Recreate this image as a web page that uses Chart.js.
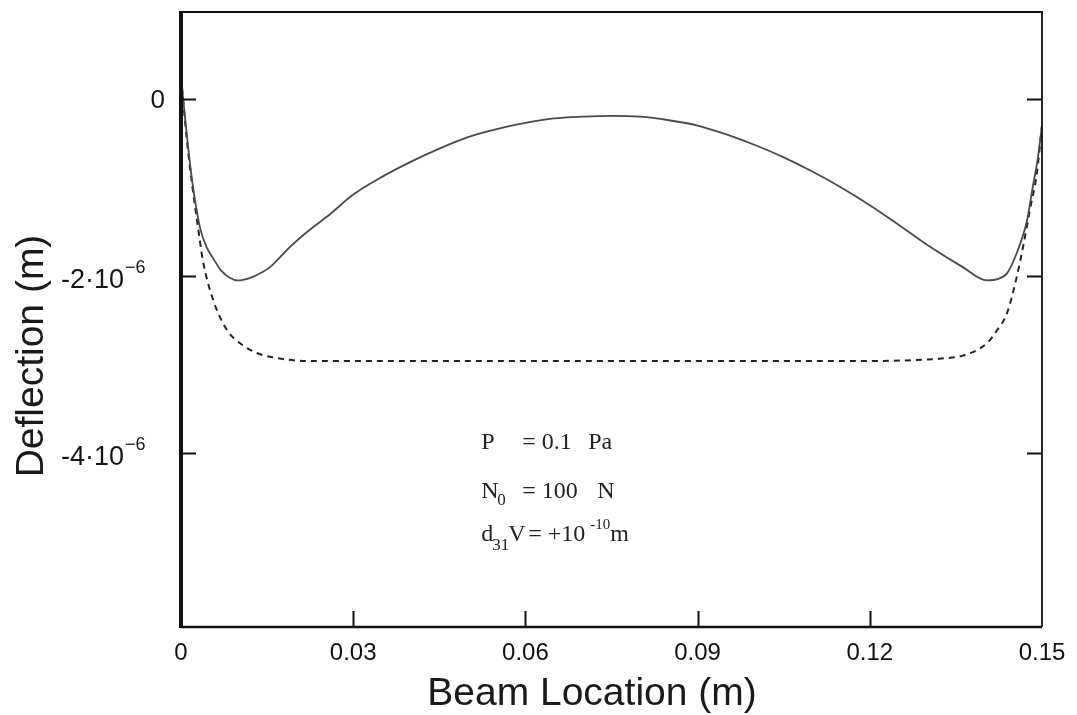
<!DOCTYPE html>
<html>
<head>
<meta charset="utf-8">
<script src="https://cdn.jsdelivr.net/npm/chart.js@4.4.1/dist/chart.umd.min.js"></script>
<style>
  html, body { margin: 0; padding: 0; background: #fff; }
  #wrap { width: 1077px; height: 715px; }
</style>
</head>
<body>
<div id="wrap"><canvas id="grafico"></canvas></div>
<script>
// beam location (m) and deflection (in units of 1e-6 m)
const xSolid = [0, 0.001, 0.002, 0.0033, 0.0045, 0.0056, 0.007, 0.0085, 0.0098, 0.011, 0.0125, 0.0155, 0.019, 0.022, 0.026, 0.03, 0.035, 0.04, 0.045, 0.05, 0.055, 0.06, 0.065, 0.07, 0.075, 0.08, 0.085, 0.09, 0.095, 0.1, 0.105, 0.11, 0.115, 0.12, 0.125, 0.1305, 0.1362, 0.1404, 0.1425, 0.1439, 0.1456, 0.1474, 0.1484, 0.1492, 0.1497, 0.15]
const ySolid = [0.25, -0.4, -0.95, -1.45, -1.68, -1.8, -1.94, -2.02, -2.05, -2.04, -2.01, -1.9, -1.67, -1.5, -1.3, -1.08, -0.88, -0.71, -0.56, -0.43, -0.34, -0.27, -0.22, -0.2, -0.19, -0.2, -0.24, -0.3, -0.4, -0.52, -0.66, -0.82, -1.0, -1.2, -1.42, -1.67, -1.9, -2.05, -2.03, -1.97, -1.74, -1.37, -0.99, -0.7, -0.46, -0.3]

const xDashed = [0, 0.001, 0.002, 0.0028, 0.0038, 0.0056, 0.008, 0.0103, 0.0132, 0.017, 0.022, 0.03, 0.06, 0.09, 0.12, 0.128, 0.133, 0.1362, 0.1404, 0.1422, 0.1439, 0.1456, 0.1467, 0.1479, 0.1491, 0.15]
const yDashed = [0.25, -0.45, -1.0, -1.37, -1.82, -2.27, -2.61, -2.76, -2.87, -2.93, -2.96, -2.96, -2.96, -2.96, -2.96, -2.95, -2.93, -2.9, -2.76, -2.61, -2.42, -2.01, -1.67, -1.25, -0.84, -0.3]

const xTicks = [0, 0.03, 0.06, 0.09, 0.12, 0.15]
const xTickLabels = ['0', '0.03', '0.06', '0.09', '0.12', '0.15']
const yTicks = [0, -2, -4]
const yTickBase = ['0', '-2\u00b710', '-4\u00b710']
const yTickExp = ['', '\u22126', '\u22126']

const tituloX = 'Beam Location (m)'
const tituloY = 'Deflection (m)'

// note position in data units
const notaX = 0.0523
const notaY = -3.955

function puntos(xs, ys) {
  return xs.map((x, i) => ({ x: x, y: ys[i] }))
}

const marco = {
  id: 'marco',
  afterDraw(chart) {
    const ctx = chart.ctx
    const a = chart.chartArea
    const xs = chart.scales.x
    const ys = chart.scales.y
    const sans = '"Liberation Sans", Arial, sans-serif'
    ctx.save()
    ctx.strokeStyle = '#111'
    ctx.lineCap = 'butt'

    // inward ticks
    ctx.lineWidth = 2
    yTicks.forEach(v => {
      const py = Math.round(ys.getPixelForValue(v)) + 0.5
      ctx.beginPath()
      ctx.moveTo(a.left, py); ctx.lineTo(a.left + 15, py)
      ctx.moveTo(a.right - 15, py); ctx.lineTo(a.right, py)
      ctx.stroke()
    })
    xTicks.slice(1, -1).forEach(v => {
      const px = Math.round(xs.getPixelForValue(v)) + 0.5
      ctx.beginPath()
      ctx.moveTo(px, a.bottom); ctx.lineTo(px, a.bottom - 16)
      ctx.stroke()
    })

    // frame
    ctx.lineWidth = 1.8
    ctx.beginPath()
    ctx.moveTo(a.left, a.top); ctx.lineTo(a.right, a.top); ctx.lineTo(a.right, a.bottom)
    ctx.stroke()
    ctx.lineWidth = 2.5
    ctx.beginPath()
    ctx.moveTo(a.left, a.bottom); ctx.lineTo(a.right, a.bottom)
    ctx.stroke()
    ctx.lineWidth = 4
    ctx.beginPath()
    ctx.moveTo(a.left, a.top - 1); ctx.lineTo(a.left, a.bottom + 1)
    ctx.stroke()

    // y tick labels with exponent
    ctx.fillStyle = '#151515'
    ctx.textBaseline = 'alphabetic'
    yTicks.forEach((v, i) => {
      const py = ys.getPixelForValue(v)
      if (yTickExp[i] === '') {
        ctx.font = '26px ' + sans
        ctx.textAlign = 'right'
        ctx.fillText(yTickBase[i], 165, py + 9)
      } else {
        ctx.font = '18px ' + sans
        ctx.textAlign = 'left'
        ctx.fillText(yTickExp[i], 125, py - 3)
        ctx.font = '27px ' + sans
        ctx.textAlign = 'right'
        ctx.fillText(yTickBase[i], 124, py + 12)
      }
    })

    // axis titles
    ctx.fillStyle = '#1a1a1a'
    ctx.font = '39px ' + sans
    ctx.textAlign = 'center'
    ctx.fillText(tituloX, 592, 705)
    ctx.save()
    ctx.translate(43, 356)
    ctx.rotate(-Math.PI / 2)
    ctx.fillText(tituloY, 0, 0)
    ctx.restore()

    // note text
    const ax = xs.getPixelForValue(notaX)
    const ay = ys.getPixelForValue(notaY)
    const serif = '"Liberation Serif", "Times New Roman", serif'
    const txt = (s, dx, dy, size) => {
      ctx.font = size + 'px ' + serif
      ctx.fillText(s, ax + dx, ay + dy)
    }
    ctx.textAlign = 'left'
    ctx.fillStyle = '#222'
    txt('P', 0, 0, 24)
    txt('= 0.1', 41, 0, 24)
    txt('Pa', 107, 0, 24)
    txt('N', 0, 49, 24)
    txt('0', 16, 56, 17)
    txt('= 100', 41, 49, 24)
    txt('N', 116, 49, 24)
    txt('d', 0, 92, 24)
    txt('31', 11, 101, 17)
    txt('V', 27, 92, 24)
    txt('= +10', 47, 92, 24)
    txt('-10', 109, 80, 15)
    txt('m', 129, 92, 24)
    ctx.restore()
  }
}

const ctx = document.getElementById('grafico').getContext('2d')
const grafico = new Chart(ctx, {
  type: 'scatter',
  data: {
    datasets: [{
      label: 'solid',
      data: puntos(xSolid, ySolid),
      showLine: true,
      borderColor: '#4a4a4a',
      borderWidth: 1.8,
      pointRadius: 0,
      cubicInterpolationMode: 'monotone'
    }, {
      label: 'dashed',
      data: puntos(xDashed, yDashed),
      showLine: true,
      borderColor: '#222',
      borderWidth: 2,
      borderDash: [6, 5],
      pointRadius: 0,
      cubicInterpolationMode: 'monotone'
    }]
  },
  options: {
    responsive: true,
    maintainAspectRatio: false,
    animation: false,
    layout: { padding: { left: 0, right: 35, top: 12, bottom: 0 } },
    plugins: { legend: { display: false }, tooltip: { enabled: false } },
    scales: {
      x: {
        type: 'linear',
        min: 0,
        max: 0.15,
        afterBuildTicks: s => { s.ticks = xTicks.map(v => ({ value: v })) },
        afterFit: s => { s.height = 88; s.paddingLeft = 0; s.paddingRight = 0 },
        grid: { display: false },
        border: { display: false },
        ticks: {
          padding: 4,
          color: '#111',
          font: { family: '"Liberation Sans", Arial, sans-serif', size: 24 },
          maxRotation: 0,
          autoSkip: false,
          callback: (v, i) => xTickLabels[i]
        }
      },
      y: {
        type: 'linear',
        min: -5.966,
        max: 0.983,
        afterBuildTicks: s => { s.ticks = yTicks.map(v => ({ value: v })) },
        afterFit: s => { s.width = 181; s.paddingTop = 0; s.paddingBottom = 0 },
        grid: { display: false },
        border: { display: false },
        ticks: { display: false }
      }
    }
  },
  plugins: [marco]
})
</script>
</body>
</html>
